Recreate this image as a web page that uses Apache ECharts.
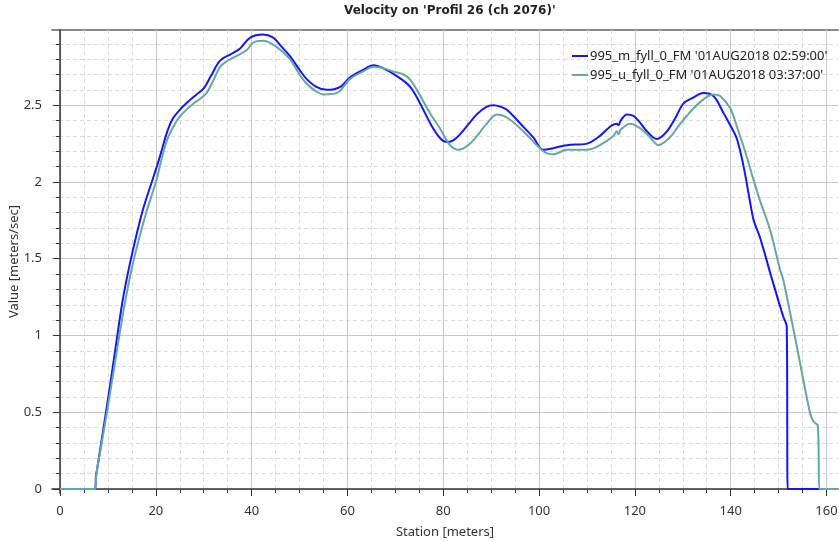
<!DOCTYPE html>
<html>
<head>
<meta charset="utf-8">
<script src="https://cdn.jsdelivr.net/npm/echarts@6/dist/echarts.min.js"></script>
<style>html,body{margin:0;padding:0;background:#fff}#c{width:839px;height:541px}</style>
</head>
<body>
<div id="c"></div>
<script>
const titleText = "Velocity on 'Profil 26 (ch 2076)'";
const seriesNames = ["995_m_fyll_0_FM '01AUG2018 02:59:00'", "995_u_fyll_0_FM '01AUG2018 03:37:00'"];
const xMajorTicks = [0, 20, 40, 60, 80, 100, 120, 140, 160];
const xMinorTicks = [5, 10, 15, 25, 30, 35, 45, 50, 55, 65, 70, 75, 85, 90, 95, 105, 110, 115, 125, 130, 135, 145, 150, 155];
const yMajorTicks = [0, 0.5, 1, 1.5, 2, 2.5];
const yMinorTicks = [0.1, 0.2, 0.3, 0.4, 0.6, 0.7, 0.8, 0.9, 1.1, 1.2, 1.3, 1.4, 1.6, 1.7, 1.8, 1.9, 2.1, 2.2, 2.3, 2.4, 2.6, 2.7, 2.8, 2.9];

const blueStation = [0, 7.3, 7.5, 7.7, 8.6, 9.6, 10.9, 12.2, 13.2, 14.6, 16, 17.5, 19.8, 20.9, 22.3, 23.5, 25, 27, 28.5, 30, 31.5, 33.4, 35.5, 37.6, 39.7, 42.4, 44.5, 46, 48, 50, 51.5, 53.5, 55.7, 58.5, 60.5, 63.3, 65.4, 67.5, 70.3, 73.1, 75.2, 77.5, 79.5, 80.7, 82, 83.5, 87, 89, 90.5, 92, 93.3, 96.7, 98.8, 100.9, 103, 105.8, 110, 112.7, 114.8, 116.2, 116.6, 116.9, 117.5, 118.3, 119.7, 121, 122.5, 124.6, 126.7, 128.5, 130.1, 132.2, 134.3, 136.4, 138.5, 139.9, 141.3, 142.7, 144.1, 144.8, 146.1, 148.6, 151, 151.7, 151.9, 152.2, 162.4];
const blueValue = [0, 0, 0.08, 0.12, 0.3, 0.5, 0.77, 1.05, 1.25, 1.47, 1.66, 1.84, 2.06, 2.17, 2.32, 2.41, 2.47, 2.53, 2.57, 2.61, 2.69, 2.79, 2.83, 2.87, 2.94, 2.96, 2.94, 2.89, 2.82, 2.73, 2.67, 2.62, 2.6, 2.62, 2.68, 2.73, 2.76, 2.74, 2.69, 2.62, 2.51, 2.37, 2.28, 2.26, 2.27, 2.31, 2.44, 2.49, 2.5, 2.49, 2.47, 2.36, 2.29, 2.21, 2.22, 2.24, 2.25, 2.3, 2.36, 2.38, 2.37, 2.39, 2.42, 2.44, 2.43, 2.39, 2.33, 2.28, 2.33, 2.42, 2.51, 2.55, 2.58, 2.56, 2.45, 2.37, 2.28, 2.1, 1.86, 1.75, 1.64, 1.37, 1.12, 1.06, 0, 0, 0];

const tealStation = [0, 7.3, 7.6, 8.6, 9.8, 11.2, 12.5, 13.6, 15, 16.5, 18, 20.2, 20.9, 22.3, 24.4, 25.7, 27.8, 29.2, 30.6, 32, 33.4, 35, 36.2, 39, 40.4, 42.4, 45.2, 48, 50, 51.5, 53.5, 55, 57.8, 60.5, 63.3, 65.4, 67.5, 69.6, 71.7, 73, 74.5, 77.2, 79.3, 81.4, 83.2, 85.6, 89.1, 91.2, 93.3, 96.7, 100.9, 103, 105.8, 110, 112.7, 115.5, 116.2, 116.6, 117, 119, 121.1, 123.2, 124.9, 127.3, 129, 130.8, 133.6, 136.4, 137.8, 139.9, 141.3, 143, 144.8, 146.1, 148.2, 150.3, 151, 153.8, 156.6, 157.3, 158.2, 158.5, 158.8, 162.4];
const tealValue = [0, 0, 0.1, 0.28, 0.5, 0.77, 1.02, 1.22, 1.44, 1.63, 1.8, 2.02, 2.11, 2.27, 2.4, 2.45, 2.51, 2.54, 2.58, 2.66, 2.75, 2.79, 2.81, 2.86, 2.91, 2.92, 2.88, 2.8, 2.7, 2.64, 2.59, 2.57, 2.58, 2.67, 2.72, 2.75, 2.74, 2.72, 2.7, 2.67, 2.6, 2.45, 2.35, 2.24, 2.21, 2.25, 2.38, 2.44, 2.42, 2.33, 2.2, 2.18, 2.21, 2.21, 2.24, 2.3, 2.33, 2.31, 2.34, 2.38, 2.35, 2.29, 2.24, 2.29, 2.36, 2.43, 2.52, 2.57, 2.56, 2.48, 2.36, 2.2, 2.01, 1.88, 1.69, 1.43, 1.36, 0.93, 0.49, 0.44, 0.41, 0, 0, 0];

const zip = (xs, ys) => xs.map((x, i) => [x, ys[i]]);
const FONT = 'Noto Sans';
const TITLE_FONT = "bold 12px 'DejaVu Sans'";
const xMin = -1.67, xMax = 162.4, yMin = -0.026, yMax = 2.99;

// center the title over the plot area
const mctx = document.createElement('canvas').getContext('2d');
mctx.font = TITLE_FONT;
const titleW = mctx.measureText(titleText).width;
const titleCenter = 449.5;

const chart = echarts.init(document.getElementById('c'), null, {renderer: 'canvas'});
chart.setOption({
  animation: false,
  backgroundColor: '#fff',
  textStyle: {fontFamily: FONT},
  title: {
    text: titleText, left: Math.round(titleCenter - titleW / 2), top: 5, padding: 0,
    textStyle: {fontFamily: 'DejaVu Sans', fontSize: 12, fontWeight: 'bold', color: '#222'}
  },
  legend: {
    orient: 'vertical', left: 572, top: 48, itemGap: 3, padding: 0,
    icon: 'rect', itemWidth: 16, itemHeight: 2,
    textStyle: {fontFamily: FONT, fontSize: 13, color: '#222', lineHeight: 16, padding: [0, 0, 0, -3]},
    data: seriesNames
  },
  grid: {left: 52, top: 30, right: 1, bottom: 48, containLabel: false, outerBoundsMode: 'none'},
  xAxis: [
    {
      type: 'value', min: xMin, max: xMax, position: 'bottom',
      name: 'Station [meters]', nameLocation: 'middle', nameGap: 33, nameMoveOverlap: false,
      nameTextStyle: {fontFamily: FONT, fontSize: 13, color: '#333'},
      axisLine: {show: true, lineStyle: {color: '#333', width: 1.5}},
      axisTick: {show: true, customValues: xMajorTicks, length: 7, lineStyle: {color: '#333'}},
      axisLabel: {show: true, customValues: xMajorTicks, margin: 12, fontFamily: FONT, fontSize: 13, color: '#333'},
      splitLine: {show: true, lineStyle: {color: '#c8c8c8', width: 1}},
      z: 3
    },
    {
      type: 'value', min: xMin, max: xMax, position: 'bottom',
      axisLine: {show: false},
      axisTick: {show: true, customValues: xMinorTicks, length: 4, lineStyle: {color: '#333'}},
      axisLabel: {show: false},
      splitLine: {show: true, lineStyle: {color: '#dcdcdc', type: [4, 3], width: 1}},
      z: 2
    },
    {
      type: 'value', min: xMin, max: xMax, position: 'top',
      axisLine: {show: true, lineStyle: {color: '#8a8a8a', width: 2}},
      axisTick: {show: false}, axisLabel: {show: false}, splitLine: {show: false}
    }
  ],
  yAxis: [
    {
      type: 'value', min: yMin, max: yMax, position: 'left',
      name: 'Value [meters/sec]', nameLocation: 'middle', nameGap: 31, nameMoveOverlap: false,
      nameTextStyle: {fontFamily: FONT, fontSize: 13, color: '#333'},
      axisLine: {show: true, lineStyle: {color: '#333', width: 1.5}},
      axisTick: {show: true, customValues: yMajorTicks, length: 7, lineStyle: {color: '#333'}},
      axisLabel: {show: true, customValues: yMajorTicks, margin: 10, fontFamily: FONT, fontSize: 13, color: '#333'},
      splitLine: {show: true, lineStyle: {color: '#c8c8c8', width: 1}},
      z: 3
    },
    {
      type: 'value', min: yMin, max: yMax, position: 'left',
      axisLine: {show: false},
      axisTick: {show: true, customValues: yMinorTicks, length: 4, lineStyle: {color: '#333'}},
      axisLabel: {show: false},
      splitLine: {show: true, lineStyle: {color: '#dcdcdc', type: [4, 3], width: 1}},
      z: 2
    }
  ],
  series: [
    {
      name: seriesNames[0], type: 'line', xAxisIndex: 0, yAxisIndex: 0,
      data: zip(blueStation, blueValue), showSymbol: false, symbol: 'none',
      smooth: 0.35, lineStyle: {color: '#1414ff', width: 2}, itemStyle: {color: '#1414ff'}, z: 4
    },
    {
      name: seriesNames[1], type: 'line', xAxisIndex: 0, yAxisIndex: 0,
      data: zip(tealStation, tealValue), showSymbol: false, symbol: 'none',
      smooth: 0.35, lineStyle: {color: '#62a8a6', width: 2}, itemStyle: {color: '#62a8a6'}, z: 5
    }
  ]
});
</script>
</body>
</html>
